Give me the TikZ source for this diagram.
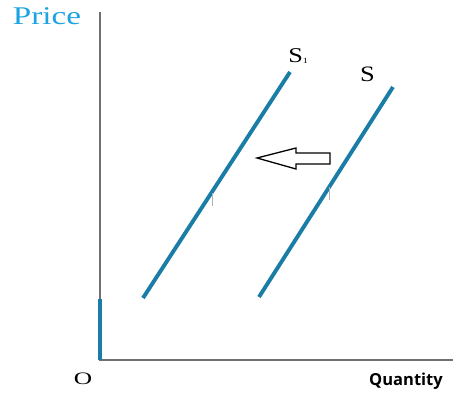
\documentclass[tikz,border=0pt]{standalone}
\usepackage{fontspec}
\newfontfamily\qfont{Open Sans}
\newfontfamily\lblfont{Liberation Serif}
\definecolor{curveblue}{HTML}{1A7DA6}
\definecolor{axisgray}{HTML}{707070}
\definecolor{pricecyan}{HTML}{1CA3E2}
\begin{document}
\begin{tikzpicture}[x=1pt,y=-1pt,
  axis/.style={draw=axisgray,line width=2.6pt},
  supply/.style={draw=curveblue,line width=3.9pt},
  lab/.style={inner sep=0pt},
  tick/.style={draw=gray!60,line width=0.5pt}]
\useasboundingbox (0,0) rectangle (453,393);
\coordinate (top) at (100,12);
\coordinate (orig) at (100,360);
\coordinate (xend) at (453,360);
\coordinate (bluetop) at (100,299);
\draw[axis] (top) -- (orig) -- (xend);
\draw[draw=curveblue,line width=3.2pt] (bluetop) -- (orig);
\coordinate (s1a) at (143,298);
\coordinate (s1b) at (290,72);
\coordinate (sa) at (259,297);
\coordinate (sb) at (393,87);
\draw[supply] (s1a) -- (s1b);
\draw[supply] (sa) -- (sb);
\coordinate (t1a) at (212,193);
\coordinate (t1b) at (212,206);
\coordinate (t2a) at (329,187);
\coordinate (t2b) at (329,200);
\draw[tick] (t1a) -- (t1b);
\draw[tick] (t2a) -- (t2b);
\node[lab,anchor=base,xscale=1.3,text=pricecyan,font=\lblfont\fontsize{25.5}{25.5}\selectfont] (price) at (47,25) {Price};
\node[lab,anchor=base west,xscale=1.25,font=\lblfont\fontsize{21}{21}\selectfont] (s1lab) at (288,63) {S\raisebox{-0.5pt}{\fontsize{8}{8}\selectfont 1}};
\node[lab,anchor=base west,xscale=1.2,font=\lblfont\fontsize{22}{22}\selectfont] (slab) at (360,82) {S};
\node[lab,anchor=base,xscale=1.45,font=\lblfont\fontsize{17.5}{17.5}\selectfont] (olab) at (83,384) {O};
\node[lab,anchor=base,font=\qfont\bfseries\fontsize{16.5}{16.5}\selectfont] (qlab) at (406,385) {Quantity};
\draw[black,line width=1.3pt,line join=miter]
  (257,158) -- (296,148) -- (296,153) -- (330,153) -- (330,164) -- (296,164) -- (296,169) -- cycle;
\end{tikzpicture}
\end{document}
